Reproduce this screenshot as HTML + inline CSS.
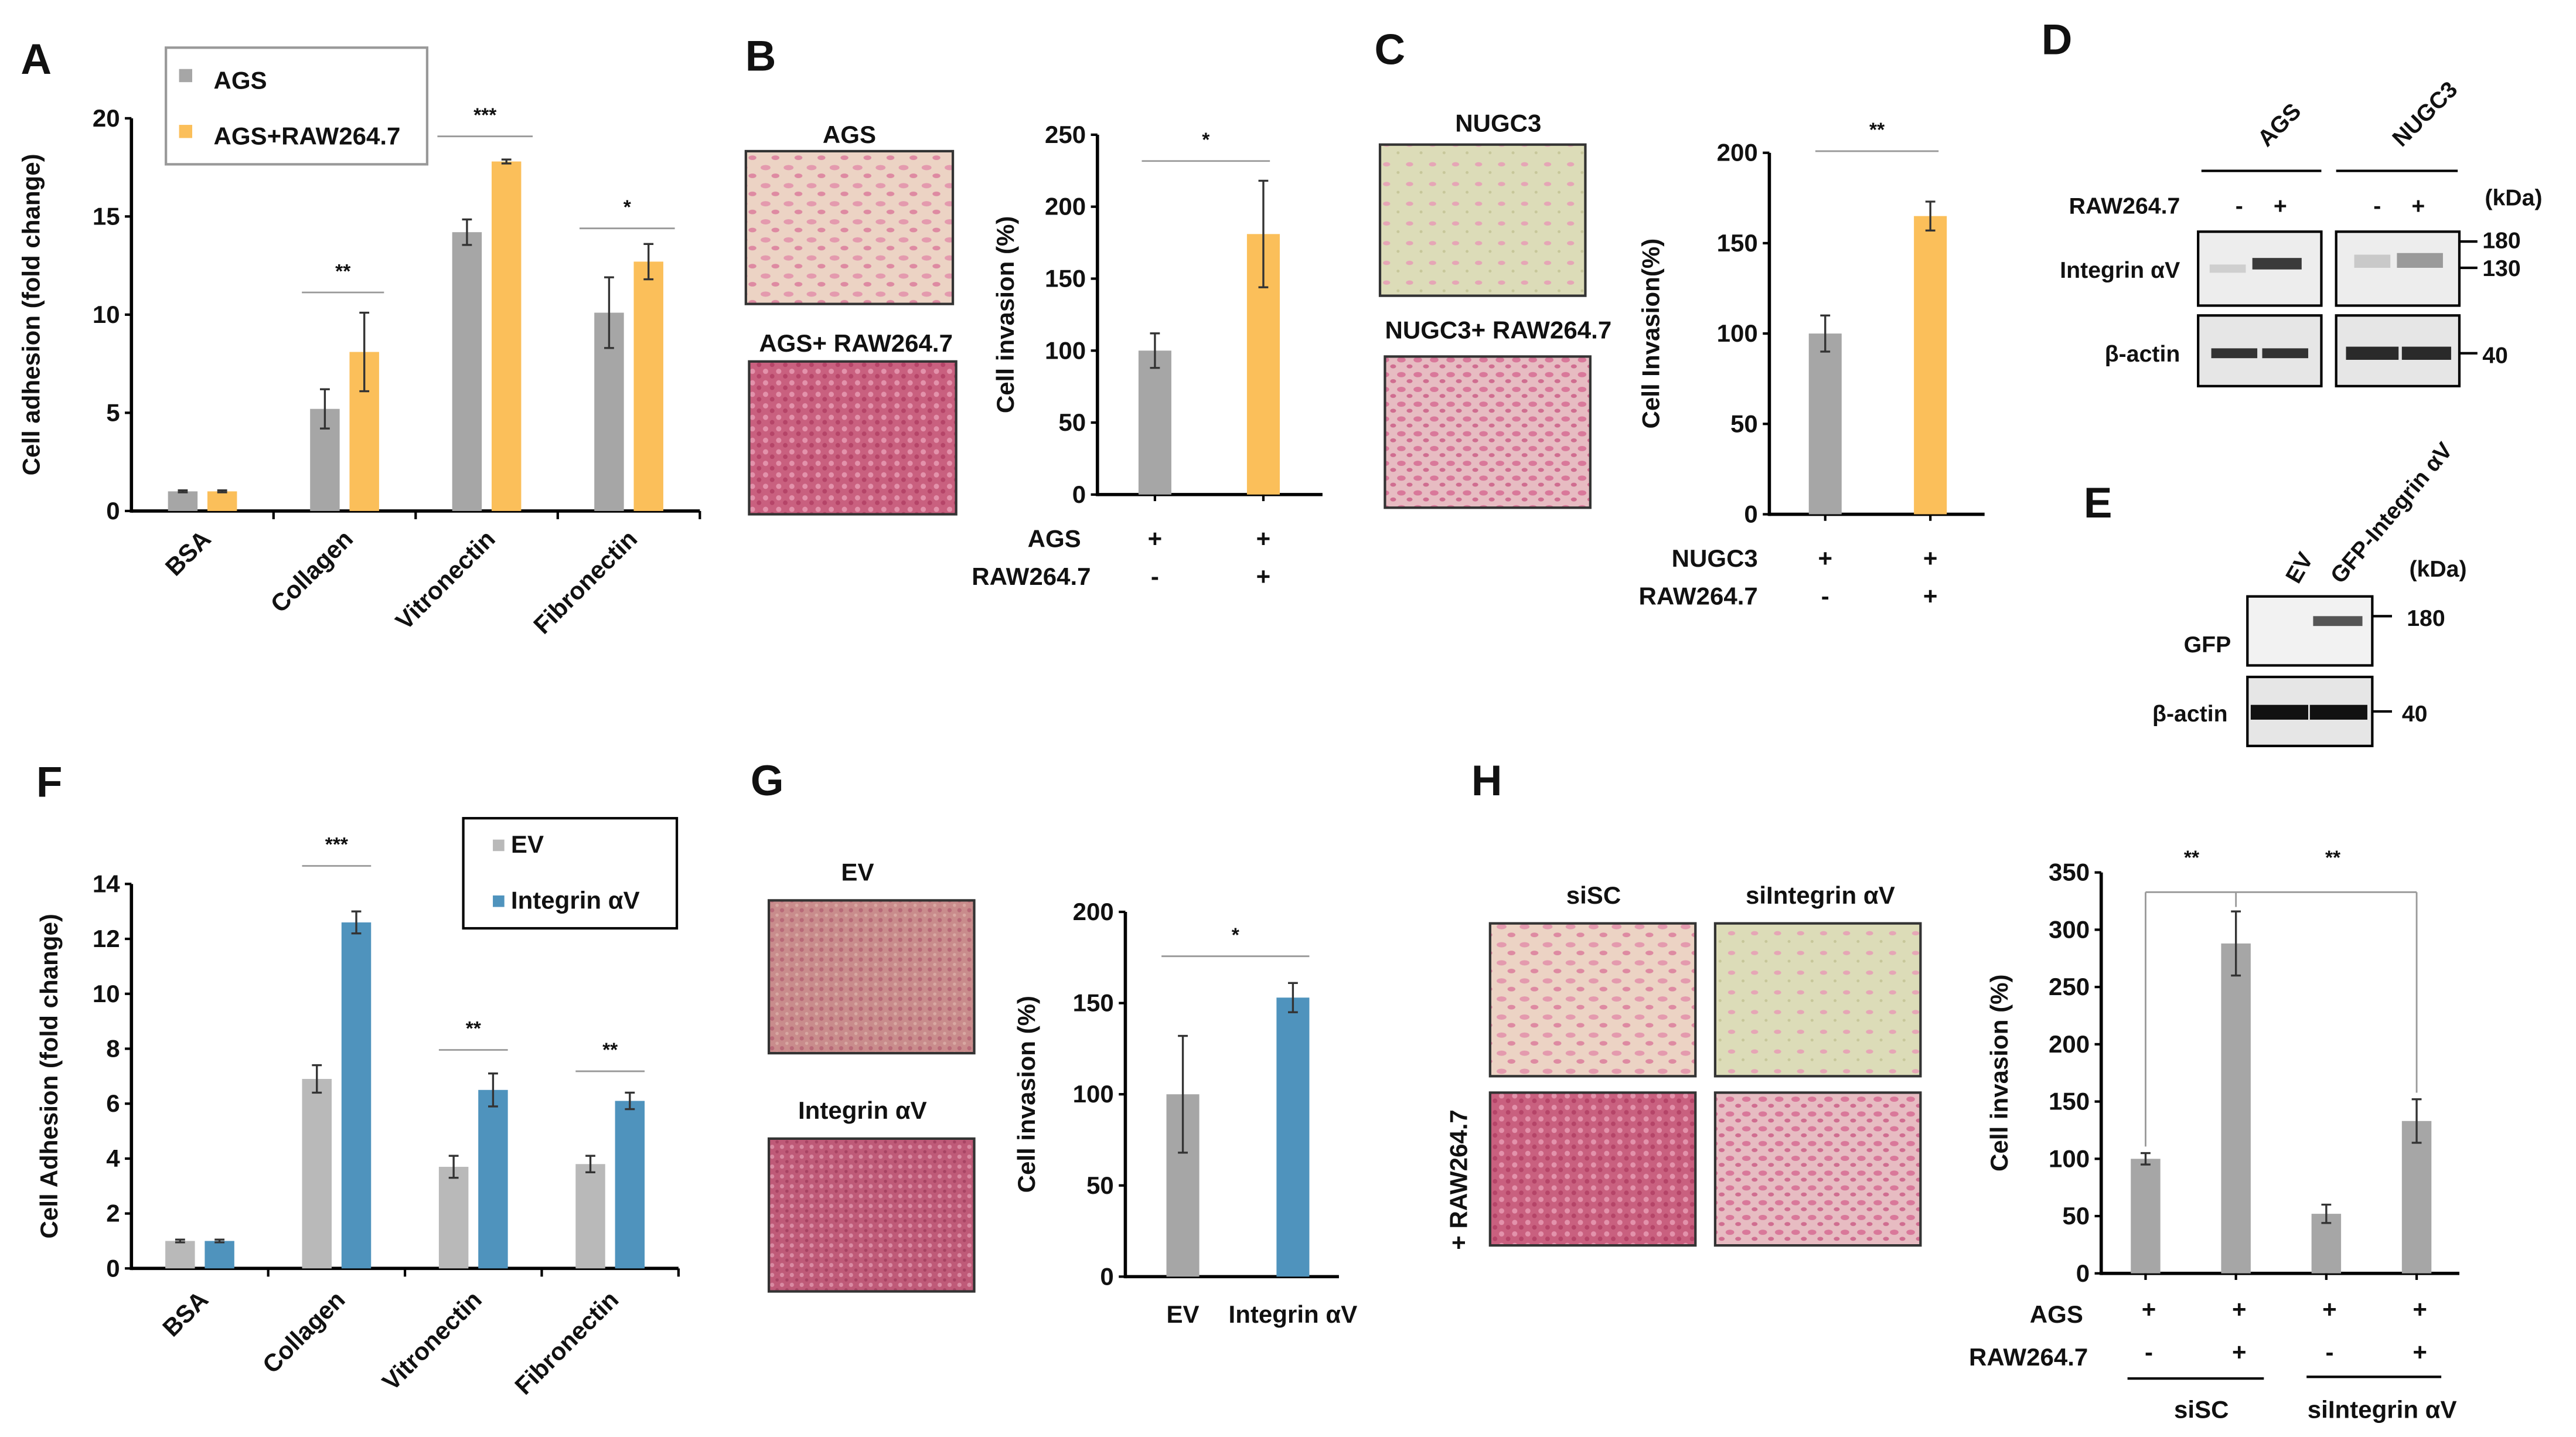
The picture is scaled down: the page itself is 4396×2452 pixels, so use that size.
<!DOCTYPE html>
<html><head><meta charset="utf-8"><style>
html,body{margin:0;padding:0;background:#fff;}
svg{display:block;font-family:"Liberation Sans",Arial,sans-serif;font-weight:bold;}
</style></head><body>
<svg id="fig" width="4396" height="2452" viewBox="0 0 1568 874.6" preserveAspectRatio="none" xmlns="http://www.w3.org/2000/svg">
<defs>
<pattern id="pAgs" width="14" height="11" patternUnits="userSpaceOnUse"><rect width="14" height="11" fill="#ecd3c4"/><ellipse cx="4" cy="3" rx="3" ry="1.6" fill="#e49aae"/><ellipse cx="10" cy="8" rx="2.4" ry="1.4" fill="#de8aa2"/></pattern>
<pattern id="pDense" width="8" height="7" patternUnits="userSpaceOnUse"><rect width="8" height="7" fill="#c9607f"/><circle cx="2" cy="2" r="1.6" fill="#e392ab"/><circle cx="6" cy="5" r="1.4" fill="#b54468"/></pattern>
<pattern id="pGreen" width="14" height="12" patternUnits="userSpaceOnUse"><rect width="14" height="12" fill="#dcdcb8"/><ellipse cx="4" cy="4" rx="2.2" ry="1.3" fill="#e6a6b6"/><circle cx="11" cy="9" r="0.9" fill="#c7c79a"/></pattern>
<pattern id="pMid" width="10" height="9" patternUnits="userSpaceOnUse"><rect width="10" height="9" fill="#e7bcc2"/><ellipse cx="3" cy="3" rx="2.6" ry="1.6" fill="#d9789a"/><ellipse cx="8" cy="7" rx="1.8" ry="1.2" fill="#d06d90"/></pattern>
<pattern id="pTan" width="6" height="6" patternUnits="userSpaceOnUse"><rect width="6" height="6" fill="#c98c8c"/><circle cx="2" cy="2" r="1.3" fill="#b86a78"/><circle cx="5" cy="5" r="1" fill="#d8a8a2"/></pattern>
<pattern id="pInt" width="6" height="6" patternUnits="userSpaceOnUse"><rect width="6" height="6" fill="#bf5a78"/><circle cx="2" cy="2" r="1.3" fill="#d98aa2"/><circle cx="5" cy="5" r="1" fill="#a84464"/></pattern>
</defs>
<g id="static"></g>
</svg>
<script>
// ---------- data ----------
const catsA = ["BSA","Collagen","Vitronectin","Fibronectin"];
const agsA = [1.0, 5.2, 14.2, 10.1];
const agsAErr = [0.05, 1.0, 0.65, 1.8];
const rawA = [1.0, 8.1, 17.8, 12.7];
const rawAErr = [0.05, 2.0, 0.1, 0.9];
const ticksA = [0,5,10,15,20];

const valsB = [100, 181];
const errB = [12, 37];
const ticksB = [0,50,100,150,200,250];

const valsC = [100, 165];
const errC = [10, 8];
const ticksC = [0,50,100,150,200];

const catsF = ["BSA","Collagen","Vitronectin","Fibronectin"];
const evF = [1.0, 6.9, 3.7, 3.8];
const evFErr = [0.05, 0.5, 0.4, 0.3];
const intF = [1.0, 12.6, 6.5, 6.1];
const intFErr = [0.05, 0.4, 0.6, 0.3];
const ticksF = [0,2,4,6,8,10,12,14];

const catsG = ["EV","Integrin αV"];
const valsG = [100, 153];
const errG = [32, 8];
const ticksG = [0,50,100,150,200];

const valsH = [100, 288, 52, 133];
const errH = [5, 28, 8, 19];
const ticksH = [0,50,100,150,200,250,300,350];

const GRAY="#a6a6a6", ORANGE="#fbbf5a", BLUE="#4f93bd", FG="#b9b9b9";
const NS="http://www.w3.org/2000/svg";
const root=document.getElementById('static');

function mk(tag, attrs, txt, parent){
  const e=document.createElementNS(NS,tag);
  for(const k in attrs) e.setAttribute(k,attrs[k]);
  if(txt!==undefined) e.textContent=txt;
  (parent||root).appendChild(e);
  return e;
}
function txt(x,y,s,size,anchor,name,extra){
  const e=mk('text',Object.assign({x:x,y:y,'font-size':size||13,'text-anchor':anchor||'middle',fill:'#111'},extra||{}),s);
  
  
  return e;
}
function line(x1,y1,x2,y2,w,col,name){
  const e=mk('line',{x1:x1,y1:y1,x2:x2,y2:y2,stroke:col||'#000','stroke-width':w||1.5});
  
  
  return e;
}
function rect(x,y,w,h,fill,name,stroke){
  const e=mk('rect',{x:x,y:y,width:w,height:h,fill:fill,stroke:stroke||'none','stroke-width':stroke?1.5:0});
  
  
  return e;
}
function yScale(y0px, ytopPx, vmax){ return v => y0px - (v/vmax)*(y0px-ytopPx); }
function drawYAxis(ax, y, ticks, x0, x1, title, titleX, fs){
  line(ax, y(ticks[ticks.length-1]), ax, y(0)+1, 2, '#000', 'y-axis');
  line(ax, y(0), x1, y(0), 2, '#000', 'x-axis');
  ticks.forEach(t=>{
    line(ax-4, y(t), ax, y(t), 1.5, '#000', 'y-tick');
    txt(ax-7, y(t)+5, String(t), fs||15, 'end', 'y-tick-label');
  });
  const my=(y(0)+y(ticks[ticks.length-1]))/2;
  txt(titleX, my, title, 15, 'middle', 'y-axis-title', {transform:'rotate(-90 '+titleX+' '+my+')'});
}
function bar(cx, w, v, err, y, fill, name){
  rect(cx-w/2, y(v), w, y(0)-y(v), fill, name);
  line(cx, y(v+err), cx, y(v-err), 1.2, '#333', 'error-bar');
  line(cx-3, y(v+err), cx+3, y(v+err), 1.2, '#333', 'error-cap');
  line(cx-3, y(v-err), cx+3, y(v-err), 1.2, '#333', 'error-cap');
}
function photo(x,y,w,h,fill,name){ rect(x,y,w,h,'url(#'+fill+')',name,'#333'); }
function sig(x1,x2,y,s){ line(x1,y,x2,y,1,'#999','significance-line'); txt((x1+x2)/2,y-9,s,12,'middle','significance-marker'); }

// ---------- Panel A ----------
txt(22,45,"A",26,'middle','panel-label-a');
(function(){
  const y=yScale(311,72,20);
  const ax=80, xe=426;
  drawYAxis(ax,y,ticksA,ax,xe,"Cell adhesion (fold change)",24);
  const step=(xe-ax)/catsA.length;
  catsA.forEach((c,i)=>{
    const cx=ax+step*(i+0.5);
    bar(cx-12,18,agsA[i],agsAErr[i],y,GRAY,'bar-ags-'+c.toLowerCase());
    bar(cx+12,18,rawA[i],rawAErr[i],y,ORANGE,'bar-ags-raw-'+c.toLowerCase());
    line(ax+step*(i+1),311,ax+step*(i+1),316,1.5,'#000','x-tick');
    const lx=cx+6, ly=329;
    txt(lx,ly,c,15,'end','x-tick-label',{transform:'rotate(-45 '+lx+' '+ly+')'});
  });
  const c=i=>ax+step*(i+0.5);
  sig(c(1)-26, c(1)+24, 178, "**");
  sig(c(2)-30, c(2)+28, 83, "***");
  sig(c(3)-30, c(3)+28, 139, "*");
  rect(101,29,159,71,'#fff','legend','#999');
  rect(109,42,8,8,GRAY,'legend-swatch-ags');
  txt(130,54,"AGS",15,'start','legend-entry-ags');
  rect(109,76,8,8,ORANGE,'legend-swatch-ags-raw');
  txt(130,88,"AGS+RAW264.7",15,'start','legend-entry-ags-raw');
})();

// ---------- Panel B ----------
txt(463,43,"B",26,'middle','panel-label-b');
txt(517,87,"AGS",15,'middle','image-label-ags');
photo(454,92,126,93,'pAgs','micrograph-ags');
txt(521,214,"AGS+ RAW264.7",15,'middle','image-label-ags-raw');
photo(456,220,126,93,'pDense','micrograph-ags-raw');
(function(){
  const y=yScale(301,82,250);
  drawYAxis(668,y,ticksB,668,805,"Cell invasion (%)",617);
  const xs=[703,769], cols=[GRAY,ORANGE];
  valsB.forEach((v,i)=>{bar(xs[i],20,v,errB[i],y,cols[i],'bar-b-'+i); line(xs[i],301,xs[i],305,1.5,'#000','x-tick');});
  sig(695,773,98,"*");
  txt(658,333,"AGS",15,'end','row-label-ags');
  txt(664,356,"RAW264.7",15,'end','row-label-raw');
  ["+","+"].forEach((s,i)=>txt(xs[i],333,s,15,'middle','condition-mark'));
  ["-","+"].forEach((s,i)=>txt(xs[i],356,s,15,'middle','condition-mark'));
})();

// ---------- Panel C ----------
txt(846,39,"C",26,'middle','panel-label-c');
txt(912,80,"NUGC3",15,'middle','image-label-nugc3');
photo(840,88,125,92,'pGreen','micrograph-nugc3');
txt(912,206,"NUGC3+ RAW264.7",15,'middle','image-label-nugc3-raw');
photo(843,217,125,92,'pMid','micrograph-nugc3-raw');
(function(){
  const y=yScale(313,93,200);
  drawYAxis(1077,y,ticksC,1077,1208,"Cell Invasion(%)",1010);
  const xs=[1111,1175], cols=[GRAY,ORANGE];
  valsC.forEach((v,i)=>{bar(xs[i],20,v,errC[i],y,cols[i],'bar-c-'+i); line(xs[i],313,xs[i],317,1.5,'#000','x-tick');});
  sig(1105,1180,92,"**");
  txt(1070,345,"NUGC3",15,'end','row-label-nugc3');
  txt(1070,368,"RAW264.7",15,'end','row-label-raw');
  ["+","+"].forEach((s,i)=>txt(xs[i],345,s,15,'middle','condition-mark'));
  ["-","+"].forEach((s,i)=>txt(xs[i],368,s,15,'middle','condition-mark'));
})();

// ---------- Panel D ----------
txt(1252,33,"D",26,'middle','panel-label-d');
txt(1380,90,"AGS",14,'start','lane-group-ags',{transform:'rotate(-45 1380 90)'});
txt(1462,90,"NUGC3",14,'start','lane-group-nugc3',{transform:'rotate(-45 1462 90)'});
line(1340,104,1413,104,1.5,'#000','group-line');
line(1422,104,1496,104,1.5,'#000','group-line');
txt(1530,125,"(kDa)",14,'middle','kda-label');
txt(1327,130,"RAW264.7",14,'end','row-label-raw');
[[1363,"-"],[1388,"+"],[1447,"-"],[1472,"+"]].forEach(p=>txt(p[0],130,p[1],14,'middle','condition-mark'));
txt(1327,169,"Integrin αV",14,'end','blot-label-integrin');
txt(1327,220,"β-actin",14,'end','blot-label-actin');
[[1338,1413],[1422,1497]].forEach((b,bi)=>{
  rect(b[0],141,b[1]-b[0],45,'#ededed','blot-integrin','#000');
  rect(b[0],192,b[1]-b[0],43,'#e6e6e6','blot-actin','#000');
});
rect(1345,161,22,5,'#cfcfcf','band'); rect(1371,157,30,7,'#3a3a3a','band');
rect(1433,155,22,8,'#c9c9c9','band'); rect(1459,154,28,9,'#9a9a9a','band');
rect(1346,212,28,6,'#333','band'); rect(1377,212,28,6,'#333','band');
rect(1428,211,32,8,'#2a2a2a','band'); rect(1462,211,30,8,'#2a2a2a','band');
line(1497,147,1508,147,1.5,'#000','marker-tick'); txt(1511,151,"180",14,'start','marker-180');
line(1497,163,1508,163,1.5,'#000','marker-tick'); txt(1511,168,"130",14,'start','marker-130');
line(1497,215,1508,215,1.5,'#000','marker-tick'); txt(1511,221,"40",14,'start','marker-40');

// ---------- Panel E ----------
txt(1277,315,"E",26,'middle','panel-label-e');
txt(1399,356,"EV",14,'start','lane-ev',{transform:'rotate(-60 1399 356)'});
txt(1425,356,"GFP-Integrin αV",14,'start','lane-gfp-integrin',{transform:'rotate(-50 1425 356)'});
txt(1484,351,"(kDa)",14,'middle','kda-label-e');
txt(1358,397,"GFP",14,'end','blot-label-gfp');
txt(1356,439,"β-actin",14,'end','blot-label-actin-e');
rect(1368,363,76,42,'#f2f2f2','blot-gfp','#000');
rect(1368,412,76,42,'#e6e6e6','blot-actin-e','#000');
rect(1408,375,30,6,'#555','band');
rect(1370,429,35,9,'#111','band'); rect(1406,429,35,9,'#111','band');
line(1444,375,1456,375,1.5,'#000','marker-tick'); txt(1465,381,"180",14,'start','marker-180-e');
line(1444,433,1456,433,1.5,'#000','marker-tick'); txt(1462,439,"40",14,'start','marker-40-e');

// ---------- Panel F ----------
txt(30,485,"F",26,'middle','panel-label-f');
(function(){
  const y=yScale(772,538,14);
  drawYAxis(80,y,ticksF,80,413,"Cell Adhesion (fold change)",35);
  const step=(413-80)/catsF.length;
  catsF.forEach((c,i)=>{
    const cx=80+step*(i+0.5);
    bar(cx-12,18,evF[i],evFErr[i],y,FG,'bar-ev-'+c.toLowerCase());
    bar(cx+12,18,intF[i],intFErr[i],y,BLUE,'bar-integrin-'+c.toLowerCase());
    line(80+step*(i+1),772,80+step*(i+1),777,1.5,'#000','x-tick');
    const lx=cx+6, ly=792;
    txt(lx,ly,c,15,'end','x-tick-label',{transform:'rotate(-45 '+lx+' '+ly+')'});
  });
  sig(80+step*1.5-21, 80+step*1.5+21, 527, "***");
  sig(80+step*2.5-21, 80+step*2.5+21, 639, "**");
  sig(80+step*3.5-21, 80+step*3.5+21, 652, "**");
  rect(282,498,130,67,'#fff','legend','#000');
  rect(300,511,7,7,FG,'legend-swatch-ev');
  txt(311,519,"EV",15,'start','legend-entry-ev');
  rect(300,545,7,7,BLUE,'legend-swatch-integrin');
  txt(311,553,"Integrin αV",15,'start','legend-entry-integrin');
})();

// ---------- Panel G ----------
txt(467,484,"G",26,'middle','panel-label-g');
txt(522,536,"EV",15,'middle','image-label-ev');
photo(468,548,125,93,'pTan','micrograph-ev');
txt(525,681,"Integrin αV",15,'middle','image-label-integrin');
photo(468,693,125,93,'pInt','micrograph-integrin');
(function(){
  const y=yScale(777,555,200);
  drawYAxis(685,y,ticksG,685,815,"Cell invasion (%)",630);
  const xs=[720,787], cols=[GRAY,BLUE];
  valsG.forEach((v,i)=>bar(xs[i],20,v,errG[i],y,cols[i],'bar-g-'+i));
  catsG.forEach((c,i)=>txt(xs[i],805,c,15,'middle','x-tick-label'));
  sig(707,797,582,"*");
})();

// ---------- Panel H ----------
txt(905,484,"H",26,'middle','panel-label-h');
txt(970,550,"siSC",15,'middle','image-label-sisc');
txt(1108,550,"siIntegrin αV",15,'middle','image-label-siintegrin');
photo(907,562,125,93,'pAgs','micrograph-sisc');
photo(1044,562,125,93,'pGreen','micrograph-siintegrin');
photo(907,665,125,93,'pDense','micrograph-sisc-raw');
photo(1044,665,125,93,'pMid','micrograph-siintegrin-raw');
txt(893,718,"+ RAW264.7",15,'middle','row-label-raw-h',{transform:'rotate(-90 893 718)'});
(function(){
  const y=yScale(775,531,350);
  drawYAxis(1279,y,ticksH,1279,1497,"Cell invasion (%)",1222);
  const xs=[1306,1361,1416,1471];
  valsH.forEach((v,i)=>{
    bar(xs[i],18,v,errH[i],y,GRAY,'bar-h-'+i);
    line(xs[i],775,xs[i],779,1.5,'#000','x-tick');
  });
  line(1306,543,1471,543,1,'#999','bracket-line');
  line(1306,543,1306,y(valsH[0]+errH[0])-4,1,'#999','bracket-line');
  line(1361,543,1361,552,1,'#999','bracket-line');
  line(1471,543,1471,y(valsH[3]+errH[3])-4,1,'#999','bracket-line');
  txt(1334,526,"**",12,'middle','significance-marker');
  txt(1420,526,"**",12,'middle','significance-marker');
  txt(1268,805,"AGS",15,'end','row-label-ags-h');
  txt(1271,831,"RAW264.7",15,'end','row-label-raw-h2');
  ["+","+","+","+"].forEach((s,i)=>txt(xs[i]+2,802,s,15,'middle','condition-mark'));
  ["-","+","-","+"].forEach((s,i)=>txt(xs[i]+2,828,s,15,'middle','condition-mark'));
  line(1295,839,1378,839,1.5,'#000','group-line');
  line(1404,838,1486,838,1.5,'#000','group-line');
  txt(1340,863,"siSC",15,'middle','group-label-sisc');
  txt(1450,863,"siIntegrin αV",15,'middle','group-label-siintegrin');
})();
</script>
</body></html>
